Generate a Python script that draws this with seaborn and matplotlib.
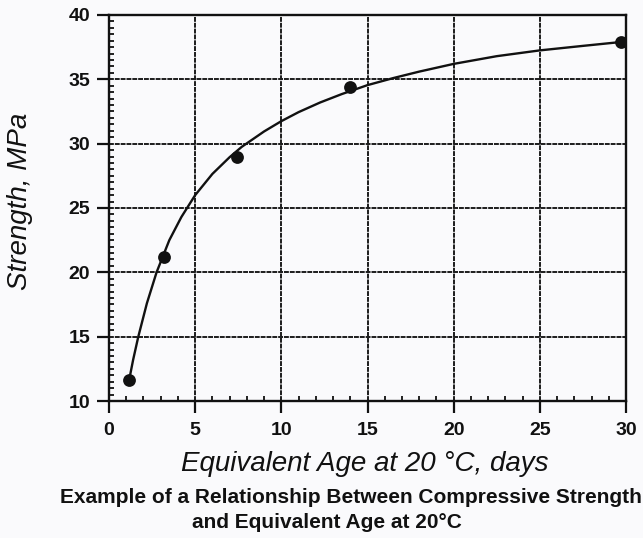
import matplotlib
matplotlib.use("Agg")
import matplotlib.pyplot as plt
from matplotlib.ticker import MultipleLocator
import pandas as pd
import seaborn as sns

# Measured compressive strength vs. equivalent age
age_days = [1.15, 3.2, 7.45, 14.0, 29.7]
strength_mpa = [11.6, 21.2, 29.0, 34.4, 37.9]

# Strength-maturity curve through the measurements
curve_age = [1.15, 1.4, 1.7, 2.2, 2.76, 3.5, 4.2, 5.0, 6.0, 7.0, 7.7, 9.0,
             10.0, 11.0, 12.25, 13.5, 15.0, 16.5, 18.0, 20.0, 22.5, 25.0, 27.5, 29.7]
curve_strength = [11.5, 13.2, 15.0, 17.6, 20.0, 22.5, 24.3, 26.0, 27.65, 28.95, 29.75, 30.95,
                  31.75, 32.45, 33.2, 33.85, 34.55, 35.1, 35.6, 36.2, 36.8, 37.25, 37.6, 37.9]

x_ticks = [0, 5, 10, 15, 20, 25, 30]
y_ticks = [10, 15, 20, 25, 30, 35, 40]

x_label = "Equivalent Age at 20 \u00b0C, days"
y_label = "Strength, MPa"
caption_1 = "Example of a Relationship Between Compressive Strength"
caption_2 = "and Equivalent Age at 20\u00b0C"

sns.set_theme(style="white")
plt.rcParams["font.family"] = ["Liberation Sans", "DejaVu Sans"]
plt.rcParams["lines.solid_joinstyle"] = "round"

points = pd.DataFrame({"age": age_days, "strength": strength_mpa})
curve = pd.DataFrame({"age": curve_age, "strength": curve_strength})

fig = plt.figure(figsize=(6.43, 5.38), dpi=100)
fig.patch.set_facecolor("#fafafc")
ax = fig.add_axes([109 / 643, 1 - 401 / 538, 517 / 643, 386 / 538])
ax.set_facecolor("#fafafc")

sns.lineplot(data=curve, x="age", y="strength", sort=False, estimator=None,
             color="#111111", linewidth=1.7, ax=ax, zorder=4)
sns.scatterplot(data=points, x="age", y="strength", color="#111111", s=85,
                edgecolor="#111111", linewidth=0, ax=ax, zorder=5)

ax.set_xlim(0, 30)
ax.set_ylim(10, 40)
ax.set_xticks(x_ticks)
ax.set_yticks(y_ticks)
ax.set_xticklabels([str(v) for v in x_ticks])
ax.set_yticklabels([str(v) for v in y_ticks])
ax.xaxis.set_minor_locator(MultipleLocator(1))
ax.yaxis.set_minor_locator(MultipleLocator(0.5))

ax.grid(which="major", color="#1c1c1c", linewidth=1.4, linestyle=(0, (2.5, 0.5)))
ax.grid(which="minor", visible=False)
ax.set_axisbelow(True)

for side in ["left", "right", "top", "bottom"]:
    ax.spines[side].set_visible(True)
    ax.spines[side].set_color("#111111")
    ax.spines[side].set_linewidth(1.7)

ax.tick_params(which="major", direction="out", length=8.5, width=1.6,
               color="#111111", labelsize=14, labelcolor="#111111",
               bottom=True, left=True, top=False, right=False)
ax.tick_params(axis="x", which="major", pad=6.5)
ax.tick_params(axis="y", which="major", pad=5)
ax.tick_params(which="minor", direction="in", length=3.8, width=1.3,
               color="#111111", bottom=True, left=True, top=False, right=False)
for lab in ax.get_xticklabels() + ax.get_yticklabels():
    lab.set_fontweight("bold")

ax.set_xlabel(x_label, fontsize=20, fontstyle="italic", color="#111111")
ax.set_ylabel(y_label, fontsize=20, fontstyle="italic", color="#111111")
ax.xaxis.set_label_coords(0.495, -0.13)
ax.yaxis.set_label_coords(-0.147, 0.516)

fig.text(60 / 643, 1 - 503 / 538, caption_1, fontsize=15, fontweight="bold",
         color="#111111", ha="left", va="baseline")
fig.text(192 / 643, 1 - 528 / 538, caption_2, fontsize=15, fontweight="bold",
         color="#111111", ha="left", va="baseline")

fig.savefig("out.png", dpi=100, facecolor=fig.get_facecolor())
